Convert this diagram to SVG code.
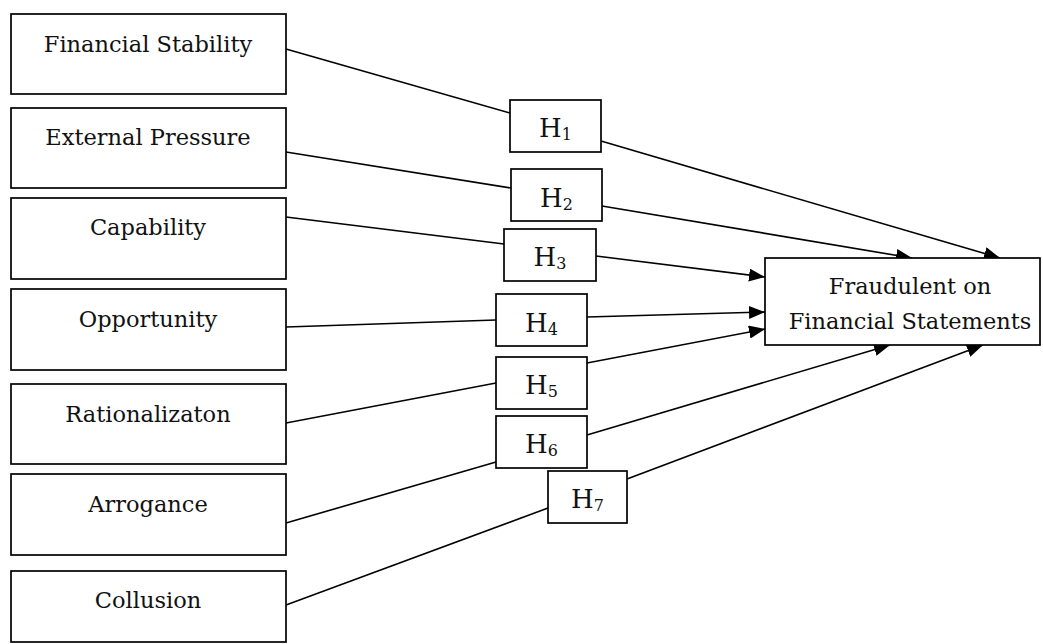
<svg xmlns="http://www.w3.org/2000/svg" width="1043" height="644" viewBox="0 0 1043 644">
<style>
.box{fill:#fff;stroke:#000;stroke-width:1.7}
.t{font-family:"DejaVu Serif","Liberation Serif",serif;font-size:22.5px;fill:#111;text-anchor:middle}
.h{font-family:"DejaVu Serif","Liberation Serif",serif;font-size:26px;fill:#111;text-anchor:middle}
.sub{font-size:16px}
.ln{fill:none;stroke:#000;stroke-width:1.6}
</style>
<defs>
<marker id="arr" markerUnits="userSpaceOnUse" markerWidth="18" markerHeight="14" refX="16" refY="6.5" orient="auto">
<path d="M0,0 L16,6.5 L0,13 z" fill="#000"/>
</marker>
</defs>
<rect width="1043" height="644" fill="#fff"/>
<g id="connectors">
<polyline class="ln" points="286,49 510,113"/>
<polyline class="ln" points="601,141 1000,258" marker-end="url(#arr)"/>
<polyline class="ln" points="286,152 511,188"/>
<polyline class="ln" points="602,206 912,258" marker-end="url(#arr)"/>
<polyline class="ln" points="286,217 504,244"/>
<polyline class="ln" points="596,256 765,277" marker-end="url(#arr)"/>
<polyline class="ln" points="286,327 496,320"/>
<polyline class="ln" points="587,317 765,312" marker-end="url(#arr)"/>
<polyline class="ln" points="286,423 496,383"/>
<polyline class="ln" points="587,363 765,329" marker-end="url(#arr)"/>
<polyline class="ln" points="286,523 496,462"/>
<polyline class="ln" points="587,435 890,345" marker-end="url(#arr)"/>
<polyline class="ln" points="286,605 548,508"/>
<polyline class="ln" points="627,479 983,345" marker-end="url(#arr)"/>
</g>
<g id="financial-stability"><rect class="box" x="11" y="14" width="275" height="80"/><text class="t" x="148" y="52">Financial Stability</text></g>
<g id="external-pressure"><rect class="box" x="11" y="108" width="275" height="80"/><text class="t" x="148" y="145">External Pressure</text></g>
<g id="capability"><rect class="box" x="11" y="198" width="275" height="81"/><text class="t" x="148" y="235">Capability</text></g>
<g id="opportunity"><rect class="box" x="11" y="289" width="275" height="81"/><text class="t" x="148" y="327">Opportunity</text></g>
<g id="rationalization"><rect class="box" x="11" y="384" width="275" height="80"/><text class="t" x="148" y="422">Rationalizaton</text></g>
<g id="arrogance"><rect class="box" x="11" y="474" width="275" height="81"/><text class="t" x="148" y="512">Arrogance</text></g>
<g id="collusion"><rect class="box" x="11" y="571" width="275" height="71"/><text class="t" x="148" y="608">Collusion</text></g>
<g id="h1"><rect class="box" x="510" y="100" width="91" height="52"/><text class="h" x="555.5" y="137">H<tspan class="sub" dy="3">1</tspan></text></g>
<g id="h2"><rect class="box" x="511" y="169" width="91" height="52"/><text class="h" x="556.5" y="207">H<tspan class="sub" dy="3">2</tspan></text></g>
<g id="h3"><rect class="box" x="504" y="229" width="92" height="52"/><text class="h" x="550" y="266">H<tspan class="sub" dy="3">3</tspan></text></g>
<g id="h4"><rect class="box" x="496" y="294" width="91" height="52"/><text class="h" x="541.5" y="332">H<tspan class="sub" dy="3">4</tspan></text></g>
<g id="h5"><rect class="box" x="496" y="357" width="91" height="52"/><text class="h" x="541.5" y="394">H<tspan class="sub" dy="3">5</tspan></text></g>
<g id="h6"><rect class="box" x="496" y="416" width="91" height="52"/><text class="h" x="541.5" y="453">H<tspan class="sub" dy="3">6</tspan></text></g>
<g id="h7"><rect class="box" x="548" y="471" width="79" height="52"/><text class="h" x="587.5" y="508">H<tspan class="sub" dy="3">7</tspan></text></g>
<g id="fraudulent"><rect class="box" x="765" y="258" width="275" height="87"/><text class="t" x="910" y="294">Fraudulent on</text><text class="t" x="910" y="329">Financial Statements</text></g>
</svg>
